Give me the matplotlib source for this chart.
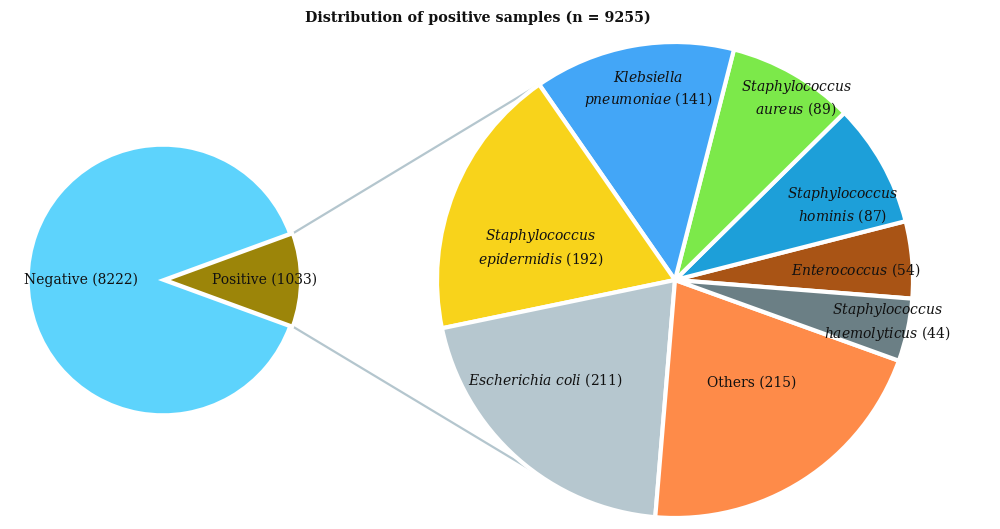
import numpy as np
import matplotlib.pyplot as plt

# outer pie
main_labels = ["Positive (1033)", "Negative (8222)"]
main_values = [1033, 8222]
main_colors = ["#9c8509", "#5dd3fc"]

# breakdown of positive samples, counter-clockwise from the right
sub_labels = [
    r"$\mathit{Enterococcus}$ (54)",
    "$\\mathit{Staphylococcus}$\n$\\mathit{hominis}$ (87)",
    "$\\mathit{Staphylococcus}$\n$\\mathit{aureus}$ (89)",
    "$\\mathit{Klebsiella}$\n$\\mathit{pneumoniae}$ (141)",
    "$\\mathit{Staphylococcus}$\n$\\mathit{epidermidis}$ (192)",
    r"$\mathit{Escherichia\ coli}$ (211)",
    "Others (215)",
    "$\\mathit{Staphylococcus}$\n$\\mathit{haemolyticus}$ (44)",
]
sub_values = [54, 87, 89, 141, 192, 211, 215, 44]
sub_colors = ["#a95415", "#1d9fd9", "#7ce94a", "#43a6f7", "#f8d31b",
              "#b6c7cf", "#fe8b49", "#6b7f85"]

# label placement (angle offset from wedge middle in deg, radius factor)
sub_label_pos = [(-1.7, 0.76), (-5.3, 0.77), (-3.8, 0.92), (-2.2, 0.81),
                 (8.5, 0.58), (-10.7, 0.69), (4.2, 0.54), (1.0, 0.91)]
main_label_r = [0.75, 0.61]

plt.rcParams["font.family"] = "DejaVu Serif"
plt.rcParams["mathtext.fontset"] = "custom"
plt.rcParams["mathtext.rm"] = "DejaVu Serif"
plt.rcParams["mathtext.it"] = "DejaVu Serif:italic"

fig = plt.figure(figsize=(10, 5.29), dpi=100)
ax = fig.add_axes([0, 0, 1, 1])

c1, r1 = (163, 249), 135
c2, r2 = (675, 249), 238
expl = 0.02

pos_angle = main_values[0] / sum(main_values) * 360
wedges1, _ = ax.pie(main_values, colors=main_colors, startangle=-pos_angle / 2,
                    center=c1, radius=r1, explode=[r1 * expl, 0],
                    wedgeprops=dict(edgecolor="white", linewidth=2.5),
                    frame=True)
for w, lab, rf in zip(wedges1, main_labels, main_label_r):
    mid = np.deg2rad((w.theta1 + w.theta2) / 2)
    ax.text(c1[0] + rf * r1 * np.cos(mid), c1[1] + rf * r1 * np.sin(mid), lab,
            ha="center", va="center", fontsize=10, color="#111111")

wedges2, _ = ax.pie(sub_values, colors=sub_colors, startangle=-4.5,
                    center=c2, radius=r2,
                    wedgeprops=dict(edgecolor="white", linewidth=3),
                    frame=True)
for w, lab, (da, rf) in zip(wedges2, sub_labels, sub_label_pos):
    mid = np.deg2rad((w.theta1 + w.theta2) / 2 + da)
    ax.text(c2[0] + rf * r2 * np.cos(mid), c2[1] + rf * r2 * np.sin(mid), lab,
            ha="center", va="center", fontsize=10, color="#111111",
            linespacing=1.35, multialignment="center")

ax.set_xlim(0, 1000)
ax.set_ylim(0, 529)
ax.set_aspect("equal")
ax.axis("off")

# connector lines from the positive wedge to the breakdown pie
off = r1 * expl
t_top = np.deg2rad(pos_angle / 2)
t_bot = -t_top
a_top = np.deg2rad(wedges2[4].theta1)
a_bot = np.deg2rad(233.5)
for t, a in [(t_top, a_top), (t_bot, a_bot)]:
    x0 = c1[0] + off + r1 * np.cos(t)
    y0 = c1[1] + r1 * np.sin(t)
    x1 = c2[0] + r2 * np.cos(a)
    y1 = c2[1] + r2 * np.sin(a)
    ax.plot([x0, x1], [y0, y1], color="#b4c6ce", lw=1.6, zorder=0)

ax.text(478, 511, "Distribution of positive samples (n = 9255)", ha="center",
        va="center", fontsize=10.3, fontweight="bold", color="#111111")

fig.savefig("out.png", dpi=100)
